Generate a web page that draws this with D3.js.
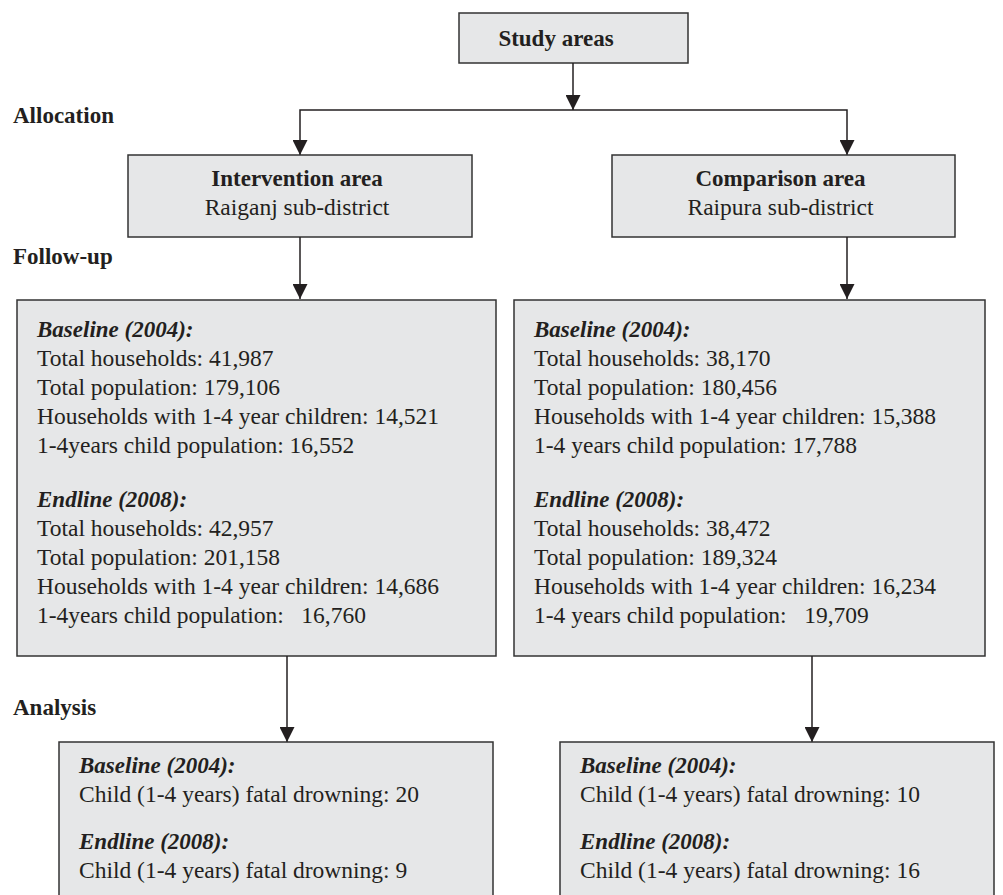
<!DOCTYPE html>
<html>
<head>
<meta charset="utf-8">
<script src="https://cdn.jsdelivr.net/npm/d3@7"></script>
<style>
  body { margin: 0; background: #fff; }
  text { font-family: "Liberation Serif", "Times New Roman", serif; fill: #231f20; white-space: pre; }
</style>
</head>
<body>
<div id="chart"></div>
<script>
// stage labels on the left
var stages = ["Allocation", "Follow-up", "Analysis"];

// the two arms
var areaNames = ["Intervention area", "Comparison area"];
var subDistricts = ["Raiganj sub-district", "Raipura sub-district"];

// population box rows
var popLabels = [
    ["Total households: ", "Total population: ", "Households with 1-4 year children: ", "1-4years child population: "],
    ["Total households: ", "Total population: ", "Households with 1-4 year children: ", "1-4 years child population: "]
];
var endLastLabel = ["1-4years child population:   ", "1-4 years child population:   "];
var baselinePop = [
    [41987, 179106, 14521, 16552],
    [38170, 180456, 15388, 17788]
];
var endlinePop = [
    [42957, 201158, 14686, 16760],
    [38472, 189324, 16234, 19709]
];

// fatal drowning counts
var drowningLabel = "Child (1-4 years) fatal drowning: ";
var baselineDrown = [20, 10];
var endlineDrown = [9, 16];

var svgWidth = 1003;
var svgHeight = 895;
var fmt = d3.format(",");
var fs = 23.5;   // body text
var fsb = 23;    // bold text

var svg = d3.select("#chart")
    .append("svg")
    .attr("width", svgWidth)
    .attr("height", svgHeight);

svg.append("defs").append("marker")
    .attr("id", "arrow")
    .attr("viewBox", "0 0 10 10")
    .attr("refX", 10)
    .attr("refY", 5)
    .attr("markerUnits", "userSpaceOnUse")
    .attr("markerWidth", 15)
    .attr("markerHeight", 15)
    .attr("orient", "auto")
    .append("path")
    .attr("d", "M0,0L10,5L0,10Z")
    .attr("fill", "#231f20");

var boxFill = "#e6e7e8";
var boxStroke = "#333";

// column positions for each arm
var areaBox = d3.scaleOrdinal().domain(areaNames).range([[128, 472], [612, 955]]);
var popBox = d3.scaleOrdinal().domain(areaNames).range([[17, 496], [514, 985]]);
var anaBox = d3.scaleOrdinal().domain(areaNames).range([[59, 493], [560, 994]]);
var anaArrowX = d3.scaleOrdinal().domain(areaNames).range([287, 812]);
var splitXs = d3.scaleOrdinal().domain(areaNames).range([300, 847]);

function box(x0, x1, y0, y1) {
    svg.append("rect")
        .attr("x", x0).attr("y", y0)
        .attr("width", x1 - x0).attr("height", y1 - y0)
        .attr("fill", boxFill)
        .attr("stroke", boxStroke)
        .attr("stroke-width", 1.5);
}

function arrow(points) {
    svg.append("path")
        .attr("d", d3.line()(points))
        .attr("fill", "none")
        .attr("stroke", "#231f20")
        .attr("stroke-width", 1.5)
        .attr("marker-end", "url(#arrow)");
}

// top box
box(459, 688, 13, 63);
svg.append("text")
    .attr("x", 556).attr("y", 46)
    .attr("text-anchor", "middle")
    .attr("font-size", fsb)
    .attr("font-weight", "bold")
    .text("Study areas");

arrow([[573, 63], [573, 110]]);

// stage labels
var stageY = d3.scaleOrdinal().domain(stages).range([123, 264, 715]);
svg.selectAll(".stage")
    .data(stages)
    .enter()
    .append("text")
    .attr("class", "stage")
    .attr("x", 13)
    .attr("y", d => stageY(d))
    .attr("font-size", fsb)
    .attr("font-weight", "bold")
    .text(d => d);

areaNames.forEach(function(name, i) {
    var a = areaBox(name);
    var cx = (a[0] + a[1]) / 2;
    var splitX = splitXs(name);

    // allocation branch
    arrow([[573, 110], [splitX, 110], [splitX, 155]]);
    box(a[0], a[1], 155, 237);
    svg.append("text")
        .attr("x", cx - 3).attr("y", 186)
        .attr("text-anchor", "middle")
        .attr("font-size", fsb)
        .attr("font-weight", "bold")
        .text(name);
    svg.append("text")
        .attr("x", cx - 3).attr("y", 215)
        .attr("text-anchor", "middle")
        .attr("font-size", fs)
        .text(subDistricts[i]);

    // follow-up
    arrow([[splitX, 237], [splitX, 299]]);
    var p = popBox(name);
    box(p[0], p[1], 300, 656);
    var tx = p[0] + 20;

    svg.append("text")
        .attr("x", tx).attr("y", 337)
        .attr("font-size", fsb)
        .attr("font-weight", "bold")
        .attr("font-style", "italic")
        .text("Baseline (2004):");
    svg.selectAll(".base" + i)
        .data(baselinePop[i])
        .enter()
        .append("text")
        .attr("x", tx)
        .attr("y", (d, j) => 366 + j * 29)
        .attr("font-size", fs)
        .text((d, j) => popLabels[i][j] + fmt(d));

    svg.append("text")
        .attr("x", tx).attr("y", 507)
        .attr("font-size", fsb)
        .attr("font-weight", "bold")
        .attr("font-style", "italic")
        .text("Endline (2008):");
    svg.selectAll(".end" + i)
        .data(endlinePop[i])
        .enter()
        .append("text")
        .attr("x", tx)
        .attr("y", (d, j) => 536 + j * 29)
        .attr("font-size", fs)
        .text((d, j) => (j === 3 ? endLastLabel[i] : popLabels[i][j]) + fmt(d));

    // analysis
    var ax = anaArrowX(name);
    arrow([[ax, 656], [ax, 742]]);
    var b = anaBox(name);
    box(b[0], b[1], 742, 910);
    var bx = b[0] + 20;
    svg.append("text")
        .attr("x", bx).attr("y", 773)
        .attr("font-size", fsb)
        .attr("font-weight", "bold")
        .attr("font-style", "italic")
        .text("Baseline (2004):");
    svg.append("text")
        .attr("x", bx).attr("y", 802)
        .attr("font-size", fs)
        .text(drowningLabel + baselineDrown[i]);
    svg.append("text")
        .attr("x", bx).attr("y", 849)
        .attr("font-size", fsb)
        .attr("font-weight", "bold")
        .attr("font-style", "italic")
        .text("Endline (2008):");
    svg.append("text")
        .attr("x", bx).attr("y", 878)
        .attr("font-size", fs)
        .text(drowningLabel + endlineDrown[i]);
});
</script>
</body>
</html>
